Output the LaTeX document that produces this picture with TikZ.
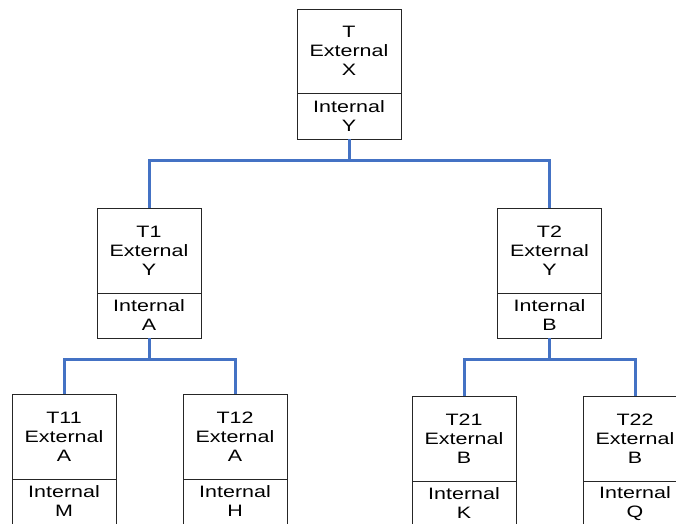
\documentclass[tikz,border=0pt]{standalone}
\usepackage{fontspec}
\setmainfont{Liberation Sans}[FakeStretch=1.3]
\begin{document}
\begin{tikzpicture}[x=1pt,y=-1pt,
  ext/.style={draw=black!85, line width=0.9pt, fill=white, minimum width=104pt, minimum height=85pt, inner sep=0pt, align=center,
    font=\fontsize{16.5}{19}\selectfont},
  intl/.style={draw=black!85, line width=0.9pt, fill=white, minimum width=104pt, minimum height=45pt, inner sep=0pt, align=center,
    font=\fontsize{16.5}{19}\selectfont},
  conn/.style={draw={rgb,255:red,68;green,114;blue,196}, line width=3pt}]
\useasboundingbox (0,0) rectangle (676,523);
\clip (0,0) rectangle (676,523);
% top
\node[ext, minimum height=84pt] (T-ext) at (349,51) {T\\External\\X};
\node[intl, minimum height=46pt] (T-int) at (349,116) {Internal\\Y};
% level 1
\node[ext] (T1-ext) at (149,250.5) {T1\\External\\Y};
\node[intl] (T1-int) at (149,315.5) {Internal\\A};
\node[ext] (T2-ext) at (549.5,250.5) {T2\\External\\Y};
\node[intl] (T2-int) at (549.5,315.5) {Internal\\B};
% level 2
\node[ext] (T11-ext) at (64,436.5) {T11\\External\\A};
\node[intl] (T11-int) at (64,501.5) {Internal\\M};
\node[ext] (T12-ext) at (235,436.5) {T12\\External\\A};
\node[intl] (T12-int) at (235,501.5) {Internal\\H};
\node[ext] (T21-ext) at (464,438.5) {T21\\External\\B};
\node[intl] (T21-int) at (464,503.5) {Internal\\K};
\node[ext] (T22-ext) at (635,438.5) {T22\\External\\B};
\node[intl] (T22-int) at (635,503.5) {Internal\\Q};
% connectors
\draw[conn] (T-int.south) -- ++(0,21) -| (T1-ext.north);
\draw[conn] (T-int.south) -- ++(0,21) -| (T2-ext.north);
\draw[conn] (T1-int.south) -- ++(0,21) -| (T11-ext.north);
\draw[conn] (T1-int.south) -- ++(0,21) -| (T12-ext.north);
\draw[conn] (T2-int.south) -- ++(0,21) -| (T21-ext.north);
\draw[conn] (T2-int.south) -- ++(0,21) -| (T22-ext.north);
\end{tikzpicture}
\end{document}
